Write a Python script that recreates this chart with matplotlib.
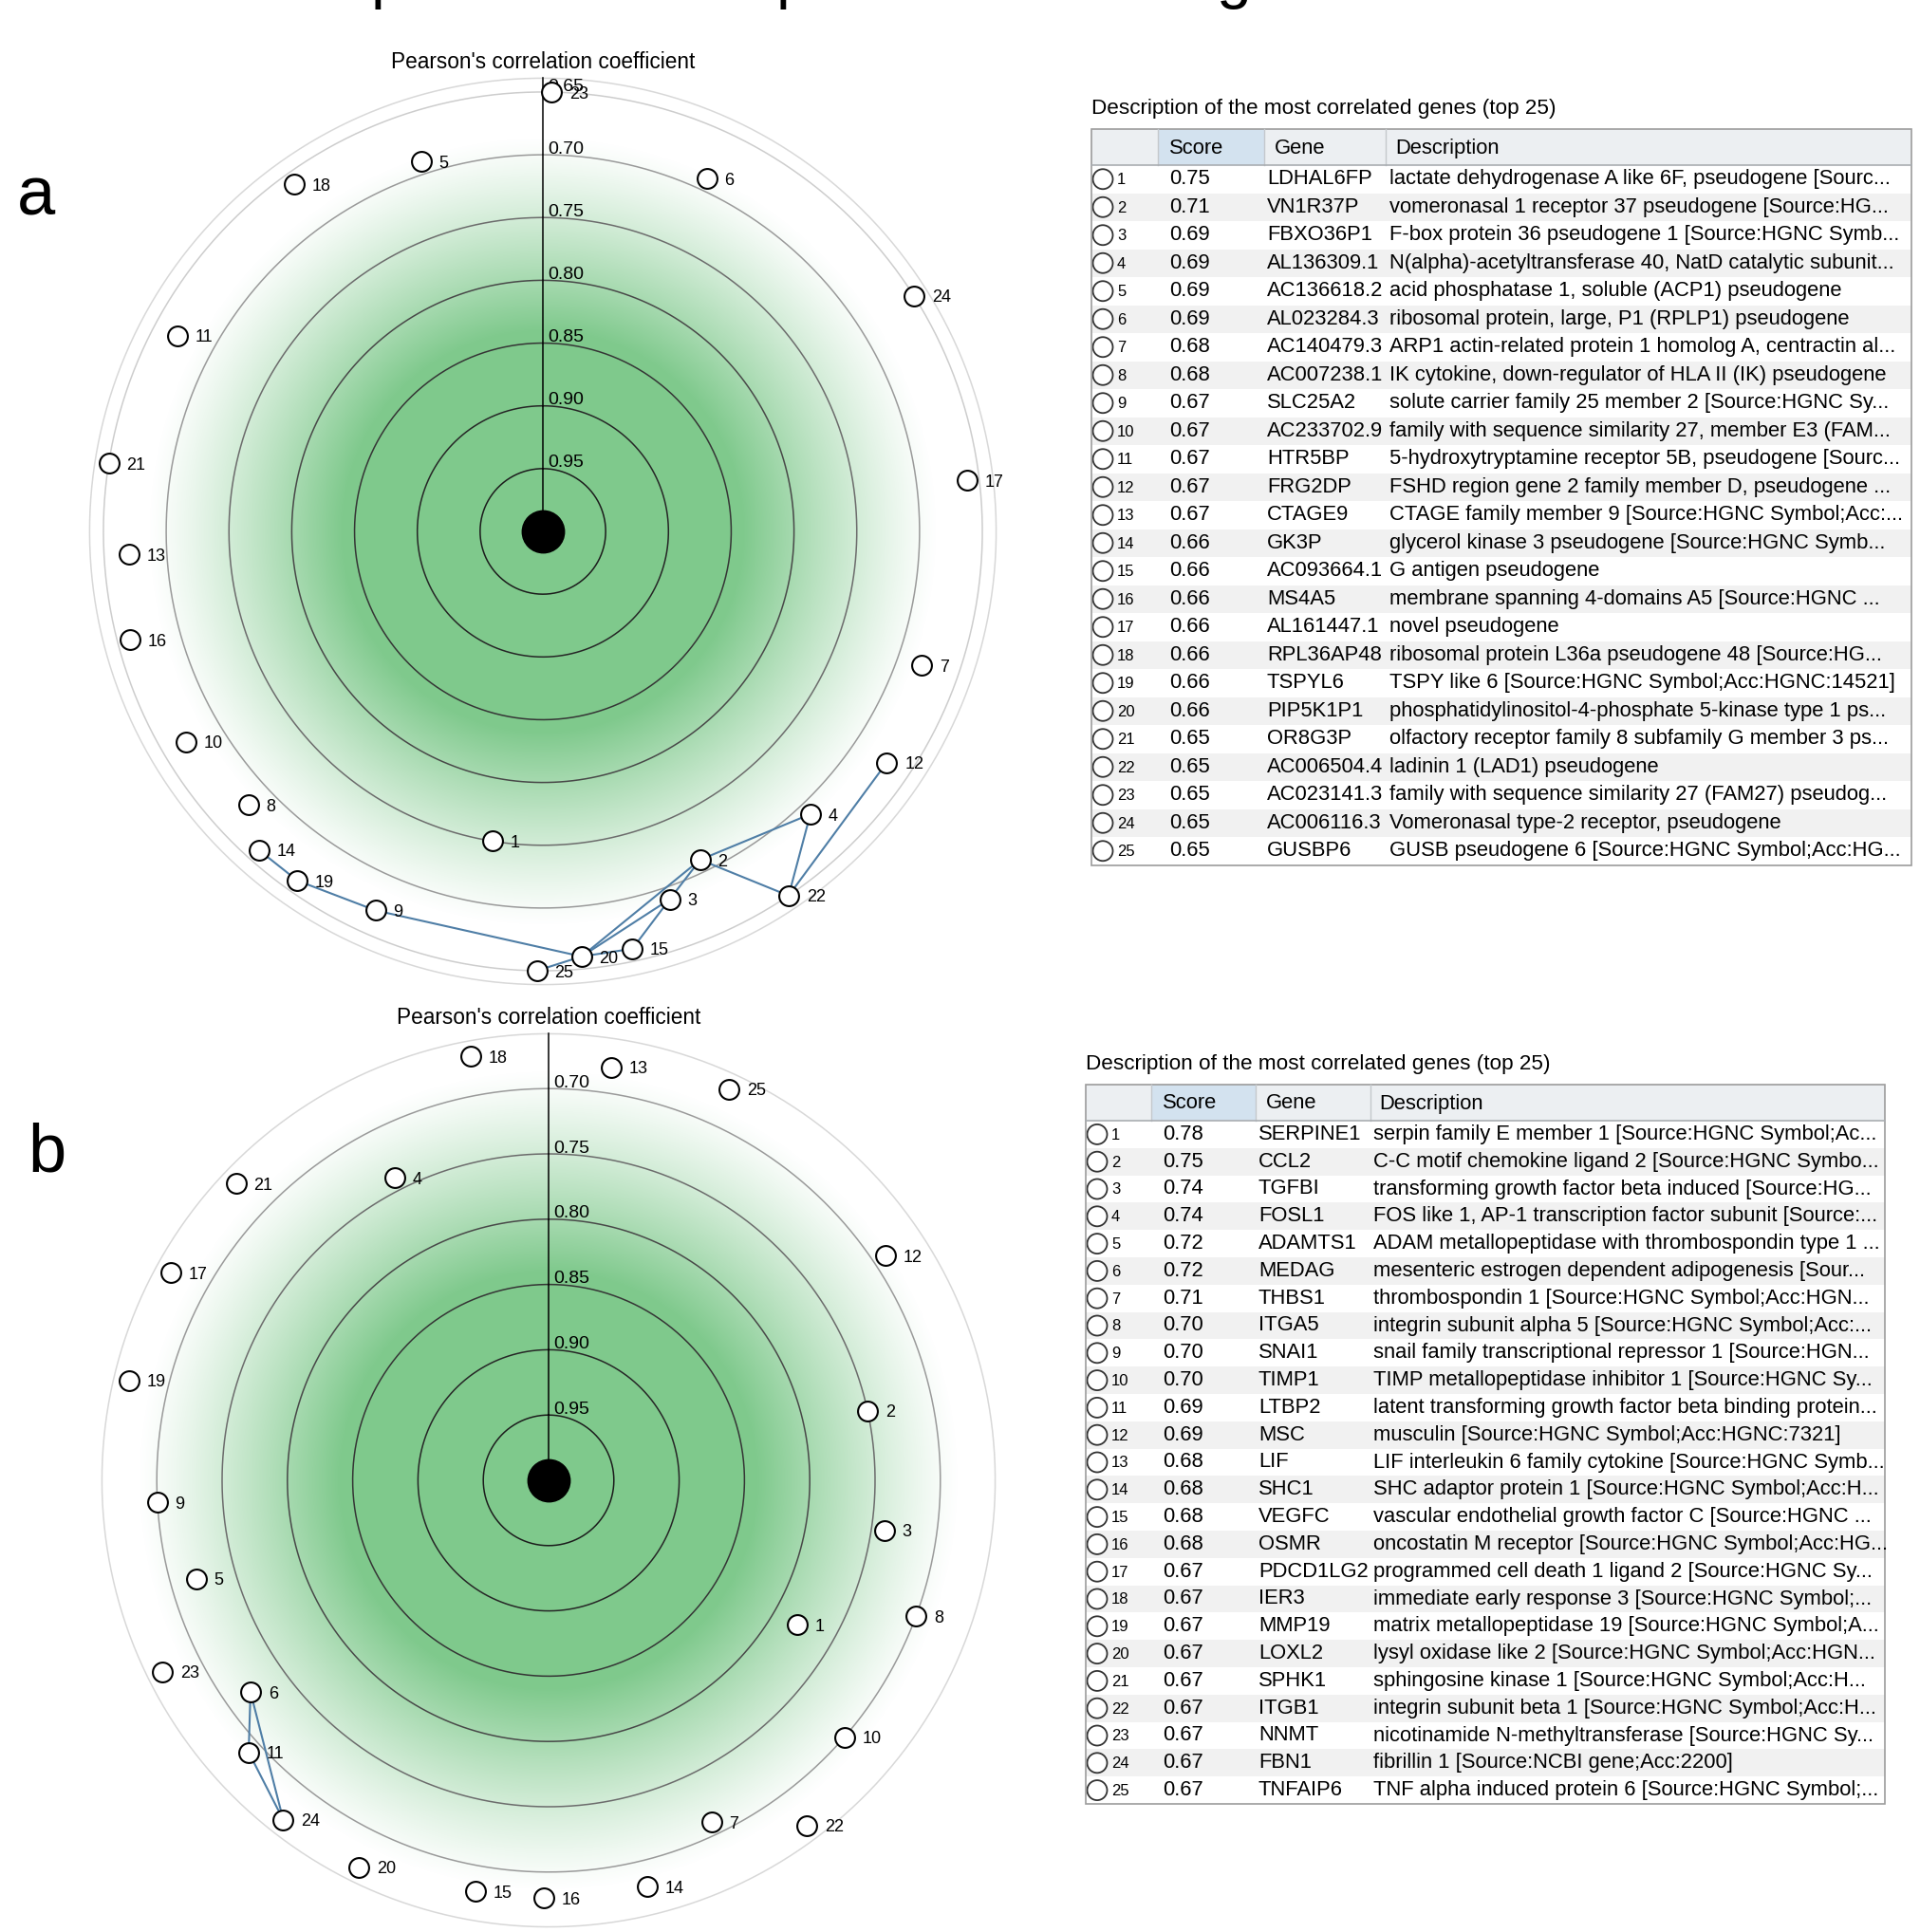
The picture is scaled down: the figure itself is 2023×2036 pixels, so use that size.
import numpy as np
import matplotlib
matplotlib.use("Agg")
from matplotlib import pyplot as plt
from matplotlib.patches import Rectangle, Circle

plt.rcParams['font.family'] = ['Liberation Sans', 'DejaVu Sans']

# ---------------- panel a ----------------
scores_a = [0.75, 0.71, 0.69, 0.69, 0.69, 0.69, 0.68, 0.68, 0.67, 0.67,
            0.67, 0.67, 0.67, 0.66, 0.66, 0.66, 0.66, 0.66, 0.66, 0.66,
            0.65, 0.65, 0.65, 0.65, 0.65]
genes_a = ["LDHAL6FP", "VN1R37P", "FBXO36P1", "AL136309.1", "AC136618.2",
           "AL023284.3", "AC140479.3", "AC007238.1", "SLC25A2", "AC233702.9",
           "HTR5BP", "FRG2DP", "CTAGE9", "GK3P", "AC093664.1",
           "MS4A5", "AL161447.1", "RPL36AP48", "TSPYL6", "PIP5K1P1",
           "OR8G3P", "AC006504.4", "AC023141.3", "AC006116.3", "GUSBP6"]
desc_a = ["lactate dehydrogenase A like 6F, pseudogene [Sourc...",
          "vomeronasal 1 receptor 37 pseudogene [Source:HG...",
          "F-box protein 36 pseudogene 1 [Source:HGNC Symb...",
          "N(alpha)-acetyltransferase 40, NatD catalytic subunit...",
          "acid phosphatase 1, soluble (ACP1) pseudogene",
          "ribosomal protein, large, P1 (RPLP1) pseudogene",
          "ARP1 actin-related protein 1 homolog A, centractin al...",
          "IK cytokine, down-regulator of HLA II (IK) pseudogene",
          "solute carrier family 25 member 2 [Source:HGNC Sy...",
          "family with sequence similarity 27, member E3 (FAM...",
          "5-hydroxytryptamine receptor 5B, pseudogene [Sourc...",
          "FSHD region gene 2 family member D, pseudogene ...",
          "CTAGE family member 9 [Source:HGNC Symbol;Acc:...",
          "glycerol kinase 3 pseudogene [Source:HGNC Symb...",
          "G antigen pseudogene",
          "membrane spanning 4-domains A5 [Source:HGNC ...",
          "novel pseudogene",
          "ribosomal protein L36a pseudogene 48 [Source:HG...",
          "TSPY like 6 [Source:HGNC Symbol;Acc:HGNC:14521]",
          "phosphatidylinositol-4-phosphate 5-kinase type 1 ps...",
          "olfactory receptor family 8 subfamily G member 3 ps...",
          "ladinin 1 (LAD1) pseudogene",
          "family with sequence similarity 27 (FAM27) pseudog...",
          "Vomeronasal type-2 receptor, pseudogene",
          "GUSB pseudogene 6 [Source:HGNC Symbol;Acc:HG..."]
# compass angle of each gene on the radar (deg, clockwise from top)
angle_a = [189.3, 154.4, 161.0, 136.6, 341.8, 24.9, 109.5, 227.1, 203.8, 239.5,
           298.2, 123.9, 266.8, 221.7, 167.9, 255.3, 83.1, 324.4, 215.1, 174.8,
           278.9, 146.0, 1.1, 57.6, 180.8]
edges_a = [(14, 19), (19, 9), (9, 20), (20, 25), (20, 15), (20, 2), (20, 3),
           (15, 3), (3, 2), (2, 4), (2, 22), (4, 22), (12, 22)]
ticks_a = [0.95, 0.90, 0.85, 0.80, 0.75, 0.70, 0.65]
rim_a = 0.639

# ---------------- panel b ----------------
scores_b = [0.78, 0.75, 0.74, 0.74, 0.72, 0.72, 0.71, 0.70, 0.70, 0.70,
            0.69, 0.69, 0.68, 0.68, 0.68, 0.68, 0.67, 0.67, 0.67, 0.67,
            0.67, 0.67, 0.67, 0.67, 0.67]
genes_b = ["SERPINE1", "CCL2", "TGFBI", "FOSL1", "ADAMTS1", "MEDAG", "THBS1",
           "ITGA5", "SNAI1", "TIMP1", "LTBP2", "MSC", "LIF", "SHC1", "VEGFC",
           "OSMR", "PDCD1LG2", "IER3", "MMP19", "LOXL2", "SPHK1", "ITGB1",
           "NNMT", "FBN1", "TNFAIP6"]
desc_b = ["serpin family E member 1 [Source:HGNC Symbol;Ac...",
          "C-C motif chemokine ligand 2 [Source:HGNC Symbo...",
          "transforming growth factor beta induced [Source:HG...",
          "FOS like 1, AP-1 transcription factor subunit [Source:...",
          "ADAM metallopeptidase with thrombospondin type 1 ...",
          "mesenteric estrogen dependent adipogenesis [Sour...",
          "thrombospondin 1 [Source:HGNC Symbol;Acc:HGN...",
          "integrin subunit alpha 5 [Source:HGNC Symbol;Acc:...",
          "snail family transcriptional repressor 1 [Source:HGN...",
          "TIMP metallopeptidase inhibitor 1 [Source:HGNC Sy...",
          "latent transforming growth factor beta binding protein...",
          "musculin [Source:HGNC Symbol;Acc:HGNC:7321]",
          "LIF interleukin 6 family cytokine [Source:HGNC Symb...",
          "SHC adaptor protein 1 [Source:HGNC Symbol;Acc:H...",
          "vascular endothelial growth factor C [Source:HGNC ...",
          "oncostatin M receptor [Source:HGNC Symbol;Acc:HG...",
          "programmed cell death 1 ligand 2 [Source:HGNC Sy...",
          "immediate early response 3 [Source:HGNC Symbol;...",
          "matrix metallopeptidase 19 [Source:HGNC Symbol;A...",
          "lysyl oxidase like 2 [Source:HGNC Symbol;Acc:HGN...",
          "sphingosine kinase 1 [Source:HGNC Symbol;Acc:H...",
          "integrin subunit beta 1 [Source:HGNC Symbol;Acc:H...",
          "nicotinamide N-methyltransferase [Source:HGNC Sy...",
          "fibrillin 1 [Source:NCBI gene;Acc:2200]",
          "TNF alpha induced protein 6 [Source:HGNC Symbol;..."]
angle_b = [120.2, 77.7, 98.5, 333.0, 254.4, 234.6, 154.5, 110.3, 266.8, 131.0,
           227.8, 56.3, 8.6, 166.4, 190.1, 180.7, 298.8, 349.6, 283.4, 206.1,
           313.5, 143.2, 243.6, 218.0, 24.8]
edges_b = [(6, 11), (6, 24), (11, 24)]
ticks_b = [0.95, 0.90, 0.85, 0.80, 0.75, 0.70]
rim_b = 0.658

axis_title = "Pearson's correlation coefficient"
table_title = "Description of the most correlated genes (top 25)"
headers = ["Score", "Gene", "Description"]

FW, FH = 2024, 2036
GREEN = np.array([0.50, 0.79, 0.55])
RING_COLS = ['#1c1c1c', '#262626', '#353535', '#484848', '#6c6c6c', '#9a9a9a', '#cdcdcd']
EDGE_COL = '#4f7ea6'


def radar_axes(fig, cx, cy, scale, half=560):
    ax = fig.add_axes([(cx - half) / FW, (FH - cy - half) / FH,
                       2 * half / FW, 2 * half / FH])
    ax.set_facecolor('none')
    ax.axis('off')
    return ax, half / scale


def draw_radar(ax, lim, scores, angles, edges, ticks, rim, title):
    rmax = 1 - rim
    # green radial glow
    n = 500
    g = np.linspace(-rmax, rmax, n)
    X, Y = np.meshgrid(g, g)
    R = np.hypot(X, Y)
    t = np.clip((R - 0.16) / (0.315 - 0.16), 0, 1)
    img = np.zeros((n, n, 4))
    img[..., :3] = GREEN
    img[..., 3] = (1 - t) ** 1.2
    ax.imshow(img, extent=(-rmax, rmax, -rmax, rmax), origin='lower',
              interpolation='bilinear', aspect='auto', zorder=0)

    th = np.linspace(0, 2 * np.pi, 500)
    for k, tk in enumerate(ticks):
        r = 1 - tk
        ax.plot(r * np.sin(th), r * np.cos(th), color=RING_COLS[k], lw=1.1, zorder=1)
        ax.annotate("%.2f" % tk, (0, r), xytext=(4, 1), textcoords='offset points',
                    ha='left', va='baseline', fontsize=14, zorder=2)
    ax.plot(rmax * np.sin(th), rmax * np.cos(th), color='#d8d8d8', lw=1.1, zorder=1)

    ax.plot([0, 0], [0, rmax], color='black', lw=1.1, zorder=2)
    ax.plot([0], [0], 'o', color='black', ms=32, zorder=3)
    ax.annotate(title, (0, rmax), xytext=(0, 12), textcoords='offset points',
                ha='center', va='center', fontsize=16.3)

    rr = 1 - np.array(scores)
    ang = np.radians(angles)
    xs = rr * np.sin(ang)
    ys = rr * np.cos(ang)
    for a, b in edges:
        ax.plot([xs[a - 1], xs[b - 1]], [ys[a - 1], ys[b - 1]],
                color=EDGE_COL, lw=1.5, zorder=4)
    ax.plot(xs, ys, 'o', ms=15, mfc='white', mec='black', mew=1.5, zorder=5)
    for i in range(len(scores)):
        ax.annotate(str(i + 1), (xs[i], ys[i]), xytext=(13.5, -1.5),
                    textcoords='offset points', ha='left', va='center',
                    fontsize=13, zorder=6)
    ax.set_xlim(-lim, lim)
    ax.set_ylim(-lim, lim)


def draw_table(ax, x0, x1, y0, yh, rowh, cols, scores, genes, descs, title, texts):
    # cols: [score col start, gene col start, desc col start]
    n = len(scores)
    y1 = yh + n * rowh
    fs = 15.8
    ax.text(x0, y0 - 22, title, ha='left', va='center', fontsize=16.2)
    ax.add_patch(Rectangle((x0, y0), x1 - x0, yh - y0, fc='#eceff2', ec='none'))
    ax.add_patch(Rectangle((cols[0], y0), cols[1] - cols[0], yh - y0, fc='#d3e2ef', ec='none'))
    for c in cols:
        ax.plot([c, c], [y0, yh], color='#c4c8cc', lw=1)
    ax.plot([x0, x1], [yh, yh], color='#a9adb1', lw=1.2)
    hx = [texts[0], texts[1] + 8, texts[2] + 6]
    for h, xx in zip(headers, hx):
        ax.text(xx, (y0 + yh) / 2 + 1, h, ha='left', va='center', fontsize=fs)
    clip = Rectangle((x0, y0), x1 - x0 - 2, y1 - y0, transform=ax.transData)
    for i in range(n):
        yc = yh + (i + 0.5) * rowh
        if i % 2 == 1:
            ax.add_patch(Rectangle((x0, yh + i * rowh), x1 - x0, rowh,
                                   fc='#f1f1f1', ec='none'))
        ax.add_patch(Circle((x0 + 12, yc), 10.5, fc='white', ec='#333333', lw=1.3))
        ax.text(x0 + 27, yc + 1, str(i + 1), ha='left', va='center', fontsize=12)
        ax.text(texts[0], yc, "%.2f" % scores[i], ha='left', va='center', fontsize=fs)
        ax.text(texts[1], yc, genes[i], ha='left', va='center', fontsize=fs)
        t = ax.text(texts[2], yc, descs[i], ha='left', va='center', fontsize=fs)
        t.set_clip_path(clip)
    ax.add_patch(Rectangle((x0, y0), x1 - x0, y1 - y0, fc='none', ec='#9c9c9c', lw=1.2))


def main():
    fig = plt.figure(figsize=(FW / 100, FH / 100), dpi=100)

    # heading letters cut off at the very top edge, as in the source image
    for ch, xx in zip(["p", "p", "g"], [391, 818, 1281]):
        fig.text(xx / FW, 1 + 4 / FH, ch, ha='left', va='baseline', fontsize=48)

    fig.text(38 / FW, 1 - 208 / FH, "a", ha='center', va='center', fontsize=52)
    fig.text(49 / FW, 1 - 1216 / FH, "b", ha='center', va='center', fontsize=52)

    ax_a, lim_a = radar_axes(fig, 572, 560, 1323)
    draw_radar(ax_a, lim_a, scores_a, angle_a, edges_a, ticks_a, rim_a, axis_title)
    ax_b, lim_b = radar_axes(fig, 578, 1560, 1376, half=500)
    draw_radar(ax_b, lim_b, scores_b, angle_b, edges_b, ticks_b, rim_b, axis_title)

    tab = fig.add_axes([0, 0, 1, 1])
    tab.set_facecolor('none')
    tab.set_xlim(0, FW)
    tab.set_ylim(FH, 0)
    tab.axis('off')
    draw_table(tab, 1150, 2014, 136, 174, 29.5, [1220, 1332, 1460],
               scores_a, genes_a, desc_a, table_title, [1232, 1335, 1464])
    draw_table(tab, 1144, 1986, 1143, 1181, 28.8, [1213, 1323, 1444],
               scores_b, genes_b, desc_b, table_title, [1225, 1326, 1447])

    fig.savefig("out.png", dpi=100)


if __name__ == '__main__':
    main()
